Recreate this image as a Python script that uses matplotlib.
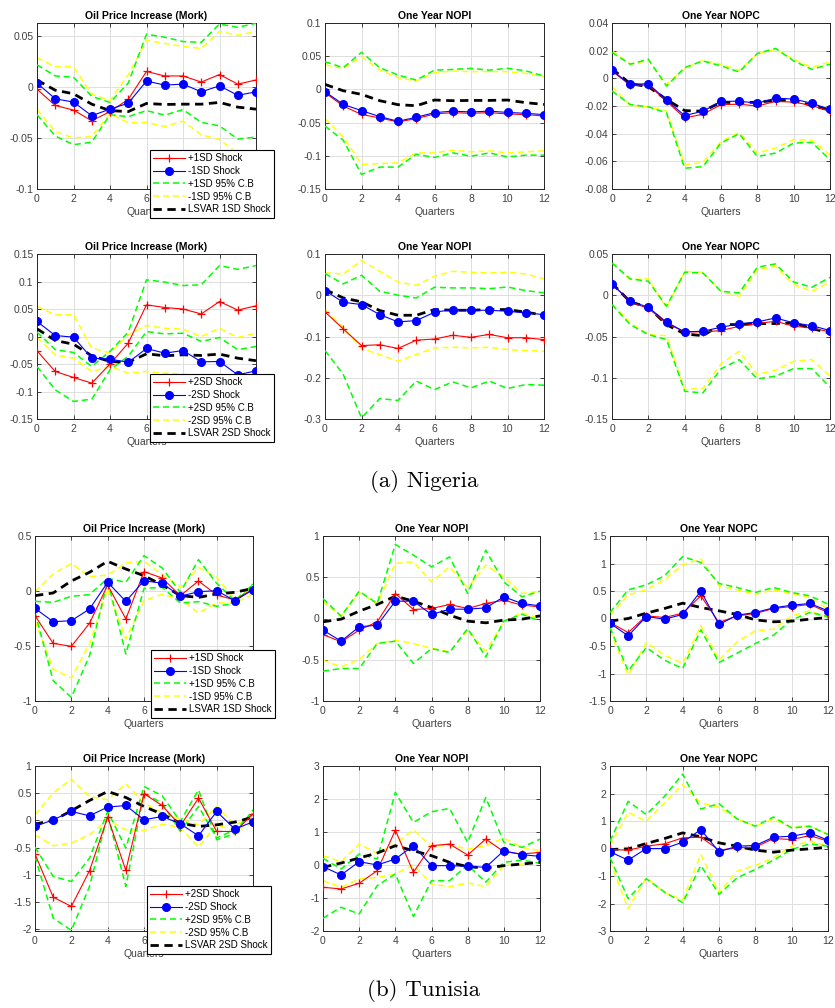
import numpy as np
import matplotlib
matplotlib.use('Agg')
import matplotlib.pyplot as plt
from matplotlib.ticker import FuncFormatter

plt.rcParams['font.family'] = ['Liberation Sans', 'DejaVu Sans']

quarters = np.arange(13)

# ---------------- Nigeria, 1SD shock ----------------
ng1_oil_pos = [-0.002, -0.018, -0.0225, -0.033, -0.024, -0.012, 0.0154, 0.011, 0.011, 0.005, 0.0124, 0.003, 0.007]
ng1_oil_neg = [0.004, -0.0114, -0.0147, -0.028, -0.0216, -0.0157, 0.006, 0.002, 0.003, -0.0046, 0.0013, -0.008, -0.0046]
ng1_oil_lsvar = [0.007, -0.003, -0.0065, -0.0167, -0.023, -0.024, -0.016, -0.017, -0.0167, -0.0167, -0.015, -0.0196, -0.0216]
ng1_oil_pos_hi = [0.022, 0.011, 0.0098, -0.009, -0.015, 0.004, 0.052, 0.049, 0.0448, 0.044, 0.062, 0.0588, 0.0627]
ng1_oil_pos_lo = [-0.027, -0.048, -0.0565, -0.054, -0.027, -0.029, -0.023, -0.0275, -0.022, -0.0346, -0.038, -0.051, -0.049]
ng1_oil_neg_hi = [0.029, 0.020, 0.020, -0.007, -0.013, 0.012, 0.046, 0.043, 0.040, 0.038, 0.0546, 0.051, 0.0546]
ng1_oil_neg_lo = [-0.022, -0.0435, -0.050, -0.0484, -0.026, -0.035, -0.0346, -0.0386, -0.0333, -0.0467, -0.0516, -0.065, -0.068]

ng1_nopi_pos = [-0.005, -0.025, -0.0377, -0.043, -0.049, -0.044, -0.037, -0.035, -0.036, -0.035, -0.037, -0.038, -0.040]
ng1_nopi_neg = [-0.0035, -0.0226, -0.032, -0.041, -0.048, -0.042, -0.035, -0.0327, -0.034, -0.0327, -0.0347, -0.036, -0.038]
ng1_nopi_lsvar = [0.0075, -0.002, -0.0075, -0.017, -0.023, -0.0246, -0.016, -0.017, -0.0166, -0.0166, -0.016, -0.020, -0.0226]
ng1_nopi_pos_hi = [0.0418, 0.0327, 0.0558, 0.0327, 0.0216, 0.014, 0.029, 0.030, 0.0317, 0.029, 0.0317, 0.028, 0.020]
ng1_nopi_pos_lo = [-0.0553, -0.0765, -0.128, -0.117, -0.117, -0.0976, -0.1026, -0.0956, -0.1006, -0.0956, -0.1016, -0.099, -0.099]
ng1_nopi_neg_hi = [0.0367, 0.0317, 0.049, 0.029, 0.0176, 0.0126, 0.025, 0.0277, 0.0267, 0.027, 0.0267, 0.024, 0.019]
ng1_nopi_neg_lo = [-0.0438, -0.0714, -0.113, -0.1117, -0.1107, -0.0956, -0.0956, -0.0916, -0.094, -0.0925, -0.0956, -0.094, -0.0925]

ng1_nopc_pos = [0.0053, -0.005, -0.0048, -0.0165, -0.0286, -0.026, -0.019, -0.0187, -0.020, -0.0167, -0.0172, -0.0196, -0.0238]
ng1_nopc_neg = [0.0058, -0.0044, -0.0039, -0.0158, -0.0269, -0.0238, -0.0167, -0.0165, -0.018, -0.0143, -0.015, -0.018, -0.0225]
ng1_nopc_lsvar = [0.007, -0.0039, -0.006, -0.0153, -0.0233, -0.0238, -0.0172, -0.0177, -0.0172, -0.016, -0.016, -0.0196, -0.023]
ng1_nopc_pos_hi = [0.0187, 0.0102, 0.0138, -0.0056, 0.0078, 0.0126, 0.009, 0.0046, 0.018, 0.0216, 0.0126, 0.0065, 0.0102]
ng1_nopc_pos_lo = [-0.0092, -0.0189, -0.0206, -0.025, -0.065, -0.0638, -0.0468, -0.040, -0.0565, -0.054, -0.0468, -0.0463, -0.0589]
ng1_nopc_neg_hi = [0.0199, 0.0102, 0.013, -0.0044, 0.007, 0.013, 0.0102, 0.0058, 0.0175, 0.021, 0.0138, 0.0078, 0.0119]
ng1_nopc_neg_lo = [-0.006, -0.0196, -0.0206, -0.0238, -0.0625, -0.0608, -0.0456, -0.039, -0.054, -0.0504, -0.0444, -0.0448, -0.0553]

# ---------------- Nigeria, 2SD shock ----------------
ng2_oil_pos = [-0.026, -0.0636, -0.0745, -0.0848, -0.050, -0.012, 0.0576, 0.0527, 0.050, 0.041, 0.0636, 0.048, 0.0558]
ng2_oil_neg = [0.0273, 0.0018, -0.0012, -0.0394, -0.041, -0.047, -0.0218, -0.0303, -0.0255, -0.046, -0.0455, -0.0697, -0.0624]
ng2_oil_lsvar = [0.014, -0.0073, -0.014, -0.035, -0.0455, -0.047, -0.0315, -0.035, -0.0333, -0.0345, -0.032, -0.0394, -0.044]
ng2_oil_pos_hi = [0.0079, -0.024, -0.029, -0.0545, -0.027, 0.0079, 0.103, 0.099, 0.0927, 0.094, 0.129, 0.122, 0.129]
ng2_oil_pos_lo = [-0.0545, -0.097, -0.118, -0.114, -0.0606, -0.036, 0.009, 0.0048, 0.006, -0.009, -0.0018, -0.024, -0.018]
ng2_oil_neg_hi = [0.0545, 0.0394, 0.0394, -0.021, -0.030, 0.003, 0.020, 0.015, 0.0133, 0.0, 0.015, -0.0018, 0.006]
ng2_oil_neg_lo = [-0.0018, -0.0333, -0.0394, -0.0636, -0.0545, -0.0667, -0.0636, -0.0667, -0.068, -0.075, -0.08, -0.085, -0.085]

ng2_nopi_pos = [-0.0404, -0.0816, -0.122, -0.120, -0.129, -0.109, -0.106, -0.097, -0.102, -0.095, -0.103, -0.103, -0.1075]
ng2_nopi_neg = [0.0113, -0.017, -0.0226, -0.0469, -0.0646, -0.0614, -0.0412, -0.0347, -0.0364, -0.0364, -0.0388, -0.0428, -0.0469]
ng2_nopi_lsvar = [0.0137, -0.0065, -0.016, -0.037, -0.0485, -0.0485, -0.0347, -0.0364, -0.0364, -0.0347, -0.0347, -0.041, -0.0485]
ng2_nopi_pos_hi = [0.0525, 0.0275, 0.0485, 0.0097, 0.0, -0.0065, 0.0194, 0.0178, 0.0178, 0.016, 0.020, 0.0113, 0.0057]
ng2_nopi_pos_lo = [-0.134, -0.192, -0.297, -0.2505, -0.255, -0.208, -0.2287, -0.210, -0.2246, -0.208, -0.226, -0.2165, -0.218]
ng2_nopi_neg_hi = [0.054, 0.0517, 0.084, 0.058, 0.032, 0.024, 0.046, 0.058, 0.0557, 0.054, 0.0557, 0.0517, 0.040]
ng2_nopi_neg_lo = [-0.0347, -0.079, -0.129, -0.1438, -0.160, -0.1438, -0.1277, -0.126, -0.1277, -0.126, -0.1317, -0.134, -0.1357]

ng2_nopc_pos = [0.0137, -0.008, -0.016, -0.034, -0.0444, -0.0444, -0.0428, -0.0376, -0.0343, -0.0315, -0.0376, -0.0396, -0.0444]
ng2_nopc_neg = [0.0137, -0.0073, -0.0145, -0.0327, -0.0444, -0.0436, -0.0388, -0.0347, -0.0323, -0.0275, -0.0335, -0.0368, -0.0428]
ng2_nopc_lsvar = [0.0145, -0.008, -0.0145, -0.0356, -0.0469, -0.049, -0.0356, -0.0356, -0.0343, -0.0343, -0.0335, -0.0404, -0.0457]
ng2_nopc_pos_hi = [0.039, 0.0198, 0.017, -0.0133, 0.0279, 0.027, 0.0048, 0.0028, 0.034, 0.038, 0.016, 0.0097, 0.0218]
ng2_nopc_pos_lo = [-0.0113, -0.0356, -0.0477, -0.0537, -0.1164, -0.1184, -0.0893, -0.078, -0.1014, -0.098, -0.0889, -0.0889, -0.1115]
ng2_nopc_neg_hi = [0.0404, 0.019, 0.020, -0.0153, 0.029, 0.0279, 0.0048, -0.0012, 0.031, 0.035, 0.0129, 0.0048, 0.016]
ng2_nopc_neg_lo = [-0.0105, -0.0335, -0.0477, -0.049, -0.1143, -0.113, -0.0832, -0.0679, -0.096, -0.091, -0.080, -0.078, -0.098]

# ---------------- Tunisia, 1SD shock ----------------
tn1_oil_pos = [-0.224, -0.476, -0.503, -0.294, 0.0545, -0.2545, 0.176, 0.118, -0.042, 0.091, -0.036, -0.082, 0.018]
tn1_oil_neg = [-0.158, -0.279, -0.270, -0.164, 0.079, -0.094, 0.094, 0.070, -0.048, -0.006, 0.003, -0.088, 0.012]
tn1_oil_lsvar = [-0.042, -0.018, 0.091, 0.170, 0.270, 0.200, 0.139, 0.0545, -0.042, -0.058, -0.027, -0.012, 0.024]
tn1_oil_pos_hi = [-0.094, -0.103, -0.048, -0.033, 0.115, 0.079, 0.321, 0.209, -0.012, 0.285, 0.070, -0.088, 0.064]
tn1_oil_pos_lo = [-0.194, -0.815, -0.967, -0.588, 0.094, -0.573, 0.024, 0.033, -0.109, -0.097, -0.139, -0.112, 0.064]
tn1_oil_neg_hi = [-0.006, 0.155, 0.2515, 0.130, 0.145, 0.2545, 0.270, 0.148, 0.033, 0.215, 0.124, -0.073, 0.033]
tn1_oil_neg_lo = [-0.27, -0.709, -0.791, -0.482, 0.018, -0.436, -0.088, -0.030, -0.073, -0.2, -0.109, -0.109, -0.027]

tn1_nopi_pos = [-0.194, -0.283, -0.141, -0.040, 0.303, 0.109, 0.121, 0.170, 0.121, 0.182, 0.222, 0.162, 0.141]
tn1_nopi_neg = [-0.141, -0.275, -0.101, -0.081, 0.210, 0.210, 0.0485, 0.113, 0.113, 0.129, 0.263, 0.182, 0.1535]
tn1_nopi_lsvar = [-0.040, -0.008, 0.089, 0.170, 0.271, 0.210, 0.133, 0.040, -0.032, -0.0525, -0.020, -0.008, 0.032]
tn1_nopi_pos_hi = [0.242, 0.028, 0.331, 0.182, 0.897, 0.768, 0.626, 0.747, 0.303, 0.828, 0.444, 0.263, 0.331]
tn1_nopi_pos_lo = [-0.638, -0.606, -0.606, -0.303, -0.275, -0.545, -0.364, -0.412, -0.121, -0.465, -0.032, 0.0525, -0.032]
tn1_nopi_neg_hi = [0.202, 0.028, 0.315, 0.182, 0.667, 0.687, 0.444, 0.626, 0.372, 0.646, 0.505, 0.303, 0.331]
tn1_nopi_neg_lo = [-0.505, -0.586, -0.497, -0.303, -0.263, -0.303, -0.364, -0.404, -0.141, -0.396, -0.040, 0.073, 0.0]

tn1_nopc_pos = [-0.073, -0.255, 0.048, 0.018, 0.097, 0.412, -0.073, 0.048, 0.091, 0.182, 0.218, 0.255, 0.109]
tn1_nopc_neg = [-0.085, -0.315, 0.036, -0.012, 0.073, 0.497, -0.109, 0.061, 0.109, 0.194, 0.242, 0.273, 0.139]
tn1_nopc_lsvar = [-0.048, 0.0, 0.097, 0.182, 0.279, 0.2, 0.139, 0.073, -0.024, -0.06, -0.048, -0.012, 0.018]
tn1_nopc_pos_hi = [0.109, 0.521, 0.612, 0.776, 1.127, 1.018, 0.636, 0.564, 0.473, 0.564, 0.473, 0.412, 0.261]
tn1_nopc_pos_lo = [-0.164, -0.952, -0.527, -0.758, -0.909, -0.206, -0.8, -0.630, -0.455, -0.303, -0.024, 0.109, 0.036]
tn1_nopc_neg_hi = [0.048, 0.430, 0.521, 0.703, 0.976, 1.079, 0.594, 0.521, 0.442, 0.521, 0.455, 0.382, 0.170]
tn1_nopc_neg_lo = [-0.224, -1.03, -0.436, -0.667, -0.818, -0.133, -0.752, -0.424, -0.224, -0.194, 0.048, 0.139, 0.018]

# ---------------- Tunisia, 2SD shock ----------------
tn2_oil_pos = [-0.618, -1.408, -1.579, -0.924, 0.061, -0.918, 0.490, 0.275, -0.098, 0.410, -0.202, -0.202, 0.116]
tn2_oil_neg = [-0.110, 0.012, 0.165, 0.086, 0.245, 0.275, 0.012, 0.073, -0.061, -0.282, 0.165, -0.159, -0.024]
tn2_oil_lsvar = [-0.067, 0.0, 0.177, 0.367, 0.532, 0.422, 0.257, 0.116, -0.049, -0.110, -0.080, -0.031, 0.061]
tn2_oil_pos_hi = [-0.490, -1.028, -1.120, -0.692, 0.165, -0.508, 0.624, 0.453, -0.018, 0.563, -0.355, -0.245, 0.196]
tn2_oil_pos_lo = [-0.661, -1.793, -2.02, -1.212, 0.104, -1.212, 0.502, 0.318, -0.202, 0.257, -0.324, -0.171, 0.135]
tn2_oil_neg_hi = [0.104, 0.502, 0.759, 0.441, 0.379, 0.673, 0.318, 0.135, 0.024, -0.080, 0.257, -0.080, 0.073]
tn2_oil_neg_lo = [-0.263, -0.465, -0.416, -0.263, 0.012, -0.171, -0.184, -0.067, -0.129, -0.490, -0.080, -0.190, -0.049]

tn2_nopi_pos = [-0.675, -0.726, -0.554, -0.171, 1.058, -0.222, 0.585, 0.635, 0.302, 0.786, 0.403, 0.333, 0.383]
tn2_nopi_neg = [-0.05, -0.302, 0.101, 0.0, 0.181, 0.585, -0.02, -0.02, -0.04, -0.07, 0.433, 0.313, 0.262]
tn2_nopi_lsvar = [-0.07, 0.06, 0.212, 0.363, 0.585, 0.433, 0.282, 0.081, -0.05, -0.091, -0.02, 0.03, 0.081]
tn2_nopi_pos_hi = [0.202, -0.121, 0.333, 0.181, 2.2, 1.29, 1.613, 1.714, 0.685, 2.046, 0.685, 0.534, 0.786]
tn2_nopi_pos_lo = [-1.613, -1.28, -1.482, -0.625, -0.272, -1.562, -0.474, -0.474, 0.0, -0.524, 0.081, 0.151, 0.05]
tn2_nopi_neg_hi = [0.282, 0.101, 0.635, 0.353, 0.635, 1.069, 0.565, 0.605, 0.484, 0.585, 0.817, 0.534, 0.433]
tn2_nopi_neg_lo = [-0.474, -0.675, -0.423, -0.373, -0.272, 0.0, -0.575, -0.655, -0.544, -0.655, -0.02, 0.03, 0.081]

tn2_nopc_pos = [-0.036, -0.06, 0.085, 0.169, 0.386, 0.411, -0.06, 0.024, 0.048, 0.362, 0.326, 0.471, 0.266]
tn2_nopc_neg = [-0.12, -0.423, 0.0, 0.0, 0.229, 0.688, -0.12, 0.085, 0.109, 0.411, 0.447, 0.568, 0.302]
tn2_nopc_lsvar = [-0.036, -0.012, 0.181, 0.362, 0.568, 0.423, 0.205, 0.085, -0.06, -0.133, -0.06, -0.012, 0.048]
tn2_nopc_pos_hi = [0.266, 1.715, 1.232, 1.896, 2.705, 1.437, 1.63, 1.075, 0.809, 1.147, 0.749, 0.809, 0.507]
tn2_nopc_pos_lo = [-0.338, -1.824, -1.1, -1.582, -1.969, -0.616, -1.667, -1.063, -0.761, -0.423, -0.036, 0.169, 0.085]
tn2_nopc_neg_hi = [0.085, 1.316, 0.990, 1.655, 2.319, 1.655, 1.498, 1.075, 0.809, 1.075, 0.749, 0.833, 0.507]
tn2_nopc_neg_lo = [-0.459, -2.186, -1.063, -1.606, -1.872, -0.217, -1.606, -0.821, -0.616, -0.338, 0.085, 0.266, 0.085]

titles = ['Oil Price Increase (Mork)', 'One Year NOPI', 'One Year NOPC']
ylims = [[(-0.1, 0.063), (-0.15, 0.1), (-0.08, 0.04)],
         [(-0.15, 0.15), (-0.3, 0.1), (-0.15, 0.05)],
         [(-1, 0.5), (-1, 1), (-1.5, 1.5)],
         [(-2.03, 1), (-2, 3), (-3, 3)]]
ysteps = [[0.05, 0.05, 0.02], [0.05, 0.1, 0.05], [0.5, 0.5, 0.5], [0.5, 1, 1]]

panels = [
    [(ng1_oil_pos, ng1_oil_neg, ng1_oil_lsvar, ng1_oil_pos_hi, ng1_oil_pos_lo, ng1_oil_neg_hi, ng1_oil_neg_lo),
     (ng1_nopi_pos, ng1_nopi_neg, ng1_nopi_lsvar, ng1_nopi_pos_hi, ng1_nopi_pos_lo, ng1_nopi_neg_hi, ng1_nopi_neg_lo),
     (ng1_nopc_pos, ng1_nopc_neg, ng1_nopc_lsvar, ng1_nopc_pos_hi, ng1_nopc_pos_lo, ng1_nopc_neg_hi, ng1_nopc_neg_lo)],
    [(ng2_oil_pos, ng2_oil_neg, ng2_oil_lsvar, ng2_oil_pos_hi, ng2_oil_pos_lo, ng2_oil_neg_hi, ng2_oil_neg_lo),
     (ng2_nopi_pos, ng2_nopi_neg, ng2_nopi_lsvar, ng2_nopi_pos_hi, ng2_nopi_pos_lo, ng2_nopi_neg_hi, ng2_nopi_neg_lo),
     (ng2_nopc_pos, ng2_nopc_neg, ng2_nopc_lsvar, ng2_nopc_pos_hi, ng2_nopc_pos_lo, ng2_nopc_neg_hi, ng2_nopc_neg_lo)],
    [(tn1_oil_pos, tn1_oil_neg, tn1_oil_lsvar, tn1_oil_pos_hi, tn1_oil_pos_lo, tn1_oil_neg_hi, tn1_oil_neg_lo),
     (tn1_nopi_pos, tn1_nopi_neg, tn1_nopi_lsvar, tn1_nopi_pos_hi, tn1_nopi_pos_lo, tn1_nopi_neg_hi, tn1_nopi_neg_lo),
     (tn1_nopc_pos, tn1_nopc_neg, tn1_nopc_lsvar, tn1_nopc_pos_hi, tn1_nopc_pos_lo, tn1_nopc_neg_hi, tn1_nopc_neg_lo)],
    [(tn2_oil_pos, tn2_oil_neg, tn2_oil_lsvar, tn2_oil_pos_hi, tn2_oil_pos_lo, tn2_oil_neg_hi, tn2_oil_neg_lo),
     (tn2_nopi_pos, tn2_nopi_neg, tn2_nopi_lsvar, tn2_nopi_pos_hi, tn2_nopi_pos_lo, tn2_nopi_neg_hi, tn2_nopi_neg_lo),
     (tn2_nopc_pos, tn2_nopc_neg, tn2_nopc_lsvar, tn2_nopc_pos_hi, tn2_nopc_pos_lo, tn2_nopc_neg_hi, tn2_nopc_neg_lo)],
]
shock_sizes = ['1SD', '2SD', '1SD', '2SD']

# axes boxes in pixels: (left, top, right, bottom)
row_tops = [(23, 189), (254, 419), (536, 701), (766, 931)]
col_lr = [[(37, 256), (325, 544), (612, 830)],
          [(37, 256), (325, 544), (612, 830)],
          [(35, 253), (323, 540), (610, 828)],
          [(35, 253), (323, 540), (610, 828)]]
legend_corner = [(150, 150), (150, 374), (151, 650), (147, 886)]

W, H = 835, 1008
fig = plt.figure(figsize=(W / 100, H / 100), dpi=100)

ink = '#262626'
fmt = FuncFormatter(lambda v, p: f'{round(v, 6):g}' if abs(v) > 1e-9 else '0')


def draw_panel(ax, series, title, ylim, ystep, sd):
    pos, neg, lsvar, pos_hi, pos_lo, neg_hi, neg_lo = series
    h_pos, = ax.plot(quarters, pos, '-', color='#ff0000', lw=0.8, marker='+', ms=6, mew=0.9, zorder=5,
                     label=f'+{sd} Shock')
    h_neg, = ax.plot(quarters, neg, '-', color='#0000ff', lw=0.8, marker='o', ms=5.5, zorder=6,
                     label=f'-{sd} Shock')
    h_ghi, = ax.plot(quarters, pos_hi, color='#00ff00', lw=1.1, dashes=(4, 2.5), zorder=3,
                     label=f'+{sd} 95% C.B')
    ax.plot(quarters, pos_lo, color='#00ff00', lw=1.1, dashes=(4, 2.5), zorder=3)
    h_yhi, = ax.plot(quarters, neg_hi, color='#ffff00', lw=1.1, dashes=(4, 2.5), zorder=2,
                     label=f'-{sd} 95% C.B')
    ax.plot(quarters, neg_lo, color='#ffff00', lw=1.1, dashes=(4, 2.5), zorder=2)
    h_ls, = ax.plot(quarters, lsvar, color='black', lw=2, dashes=(3, 2), zorder=4,
                    label=f'LSVAR {sd} Shock')
    ax.set_xlim(0, 12)
    ax.set_ylim(*ylim)
    ax.set_xticks(range(0, 13, 2))
    lo = np.ceil(ylim[0] / ystep - 1e-6) * ystep
    ax.set_yticks(np.arange(lo, ylim[1] + 1e-9, ystep))
    ax.yaxis.set_major_formatter(fmt)
    ax.grid(True, color='#dedede', lw=0.7)
    ax.set_axisbelow(True)
    ax.tick_params(direction='in', top=True, right=True, length=3, width=0.6,
                   labelsize=7.5, labelcolor='#404040', color=ink, pad=2.5)
    ax.tick_params(axis='x', pad=3.5)
    for s in ax.spines.values():
        s.set_color(ink)
        s.set_linewidth(0.7)
    ax.set_title(title, fontsize=7.5, fontweight='bold', pad=3, color='black')
    ax.set_xlabel('Quarters', fontsize=7.5, color='#404040', labelpad=2.5)
    return [h_pos, h_neg, h_ghi, h_yhi, h_ls]


for r in range(4):
    top, bot = row_tops[r]
    for c in range(3):
        left, right = col_lr[r][c]
        ax = fig.add_axes([left / W, 1 - bot / H, (right - left) / W, (bot - top) / H])
        handles = draw_panel(ax, panels[r][c], titles[c], ylims[r][c], ysteps[r][c], shock_sizes[r])
        if c == 0:
            lx, ly = legend_corner[r]
            leg = ax.legend(handles=handles, loc='upper left', bbox_to_anchor=(lx / W, 1 - ly / H),
                            bbox_transform=fig.transFigure, borderaxespad=0, fontsize=7,
                            handlelength=3.3, handletextpad=0.3, labelspacing=0.28,
                            borderpad=0.35, fancybox=False, framealpha=1, edgecolor='black')
            leg.get_frame().set_linewidth(0.8)
            leg.set_zorder(20)

fig.text(424 / W, 1 - 481 / H, '(a) Nigeria', ha='center', va='center', fontsize=16.5, family='cmr10')
fig.text(424 / W, 1 - 990 / H, '(b) Tunisia', ha='center', va='center', fontsize=16.5, family='cmr10')

fig.savefig('out.png', dpi=100)
